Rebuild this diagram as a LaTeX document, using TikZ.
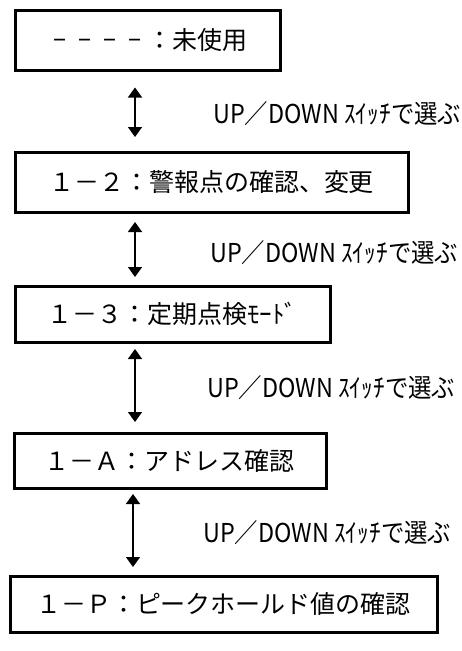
\documentclass[tikz,border=0pt]{standalone}
\usepackage{fontspec}
\usepackage{graphicx}
\setmainfont{Noto Sans CJK JP}
\newfontfamily\etiqfont{Noto Sans CJK JP}[FakeStretch=0.9]
\newcommand\guioncorto{\makebox[1em]{\scalebox{0.6}[1]{－}}}
\usepackage{tikz}
\usetikzlibrary{positioning, arrows.meta}

\begin{document}
\begin{tikzpicture}[
        % Estilos base
        box_modo/.style={
            rectangle, draw=black, line width=3pt, outer sep=0pt, inner sep=0pt,
            align=center, font=\fontsize{25pt}{30pt}\selectfont
        },
        etiqueta/.style={
            inner sep=0pt, anchor=west, font=\etiqfont\fontsize{26pt}{30pt}\selectfont
        },
        flecha/.style={{Triangle[width=14pt,length=10pt]}-{Triangle[width=14pt,length=10pt]}, line width=1.5pt, black}
    ]
    \useasboundingbox (0,0) rectangle (462pt,-651pt);

    % 1. Modos (cajas)
    \node[box_modo, minimum width=265pt, minimum height=60pt, anchor=north west] (m0) at (15pt,-10.5pt) {\guioncorto\guioncorto\guioncorto\guioncorto：未使用};
    \node[box_modo, minimum width=393pt, minimum height=60pt, below=81.5pt of m0.south west, anchor=north west] (m2) {１－２：警報点の確認、変更};
    \node[box_modo, minimum width=315pt, minimum height=56pt, below=74pt of m2.south west, anchor=north west] (m3) {１－３：定期点検ﾓｰﾄﾞ};
    \node[box_modo, minimum width=312pt, minimum height=55pt, below=91pt of m3.south west, xshift=-1pt, anchor=north west] (mA) {１－Ａ：アドレス確認};
    \node[box_modo, minimum width=427pt, minimum height=56pt, below=88pt of mA.south west, xshift=-4pt, anchor=north west] (mP) {１－Ｐ：ピークホールド値の確認};

    % --- CONEXIONES ---
    \draw[flecha] ([xshift=120pt,yshift=-17pt]m0.south west) -- ([xshift=120pt,yshift=15pt]m2.north west) coordinate[midway] (c1);
    \draw[flecha] ([xshift=120pt,yshift=-10pt]m2.south west) -- ([xshift=120pt,yshift=9pt]m3.north west) coordinate[midway] (c2);
    \draw[flecha] ([xshift=120pt,yshift=-7pt]m3.south west) -- ([xshift=121pt,yshift=11pt]mA.north west) coordinate[midway] (c3);
    \draw[flecha] ([xshift=119pt,yshift=-6pt]mA.south west) -- ([xshift=123pt,yshift=9pt]mP.north west) coordinate[midway] (c4);

    % Etiquetas de las flechas
    \node[etiqueta, right=78pt of c1, yshift=-1pt] (e1) {UP／DOWN ｽｲｯﾁで選ぶ};
    \node[etiqueta, right=75pt of c2, yshift=-3pt] (e2) {UP／DOWN ｽｲｯﾁで選ぶ};
    \node[etiqueta, right=72pt of c3, yshift=-2pt] (e3) {UP／DOWN ｽｲｯﾁで選ぶ};
    \node[etiqueta, right=70pt of c4, yshift=-2pt] (e4) {UP／DOWN ｽｲｯﾁで選ぶ};

\end{tikzpicture}
\end{document}
